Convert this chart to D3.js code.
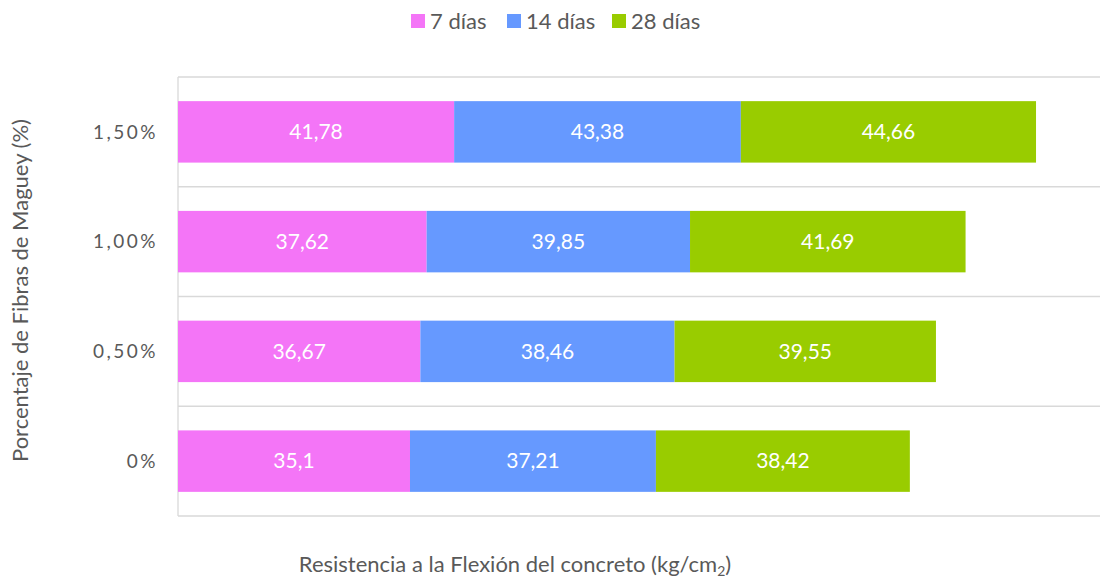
<!DOCTYPE html>
<html>
<head>
<meta charset="utf-8">
<script src="https://d3js.org/d3.v7.min.js"></script>
<style>
  body { margin: 0; background: #fff; }
  text { font-family: Lato, "Open Sans", sans-serif; fill: #595959; }
</style>
</head>
<body>
<script>
// Data
var categories = ["0%", "0,50%", "1,00%", "1,50%"];
var seriesNames = ["7 días", "14 días", "28 días"];
var dias7 = [35.1, 36.67, 37.62, 41.78];
var dias14 = [37.21, 38.46, 39.85, 43.38];
var dias28 = [38.42, 39.55, 41.69, 44.66];
var colors = ["#F475F7", "#6699FF", "#99CC00"];

var W = 1100, H = 581;
var margin = {top: 77, right: 0, bottom: 65, left: 178},
    width = W - margin.left - margin.right,
    height = H - margin.top - margin.bottom;

var rows = categories.map(function(c, i) {
  return {cat: c, "7 días": dias7[i], "14 días": dias14[i], "28 días": dias28[i]};
});
var stacked = d3.stack().keys(seriesNames)(rows);

var x = d3.scaleLinear().domain([0, 139.5]).range([0, width]);
var y = d3.scaleBand()
    .domain(categories.slice().reverse())
    .range([0, height])
    .paddingInner(0.44)
    .paddingOuter(0.22);

var svg = d3.select("body").append("svg")
    .attr("width", W)
    .attr("height", H);

var g = svg.append("g")
    .attr("transform", "translate(" + margin.left + "," + margin.top + ")");

// Horizontal gridlines between categories
var lines = d3.range(categories.length + 1).map(function(i) { return i * height / categories.length; });
g.selectAll(".grid")
    .data(lines)
  .enter().append("line")
    .attr("x1", 0).attr("x2", width)
    .attr("y1", function(d) { return d; })
    .attr("y2", function(d) { return d; })
    .attr("stroke", "#d9d9d9")
    .attr("stroke-width", 1.3);

// Left axis line
g.append("line")
    .attr("x1", 0).attr("x2", 0)
    .attr("y1", 0).attr("y2", height)
    .attr("stroke", "#d9d9d9")
    .attr("stroke-width", 1.3);

// Bars
var layer = g.selectAll(".layer")
    .data(stacked)
  .enter().append("g")
    .attr("fill", function(d, i) { return colors[i]; });

layer.selectAll("rect")
    .data(function(d) { return d; })
  .enter().append("rect")
    .attr("x", function(d) { return x(d[0]); })
    .attr("width", function(d) { return x(d[1]) - x(d[0]); })
    .attr("y", function(d) { return y(d.data.cat); })
    .attr("height", y.bandwidth());

// Bar labels
layer.selectAll("text")
    .data(function(d) { return d.map(function(p) { return {p: p, key: d.key}; }); })
  .enter().append("text")
    .attr("x", function(d) { return (x(d.p[0]) + x(d.p[1])) / 2; })
    .attr("y", function(d) { return y(d.p.data.cat) + y.bandwidth() / 2; })
    .attr("dy", "0.35em")
    .attr("text-anchor", "middle")
    .style("fill", "#fff")
    .style("font-size", "21px")
    .text(function(d) { return String(d.p.data[d.key]).replace(".", ","); });

// Category labels
g.selectAll(".cat")
    .data(categories)
  .enter().append("text")
    .attr("x", -20)
    .attr("y", function(d) { return y(d) + y.bandwidth() / 2; })
    .attr("dy", "0.35em")
    .attr("text-anchor", "end")
    .style("font-size", "19px")
    .style("letter-spacing", "2.5px")
    .text(function(d) { return d; });

// Axis titles
svg.append("text")
    .attr("transform", "translate(28," + (margin.top + height / 2 - 6) + ") rotate(-90)")
    .attr("text-anchor", "middle")
    .style("font-size", "22px")
    .text("Porcentaje de Fibras de Maguey (%)");

var xt = svg.append("text")
    .attr("x", 515)
    .attr("y", 572)
    .attr("text-anchor", "middle")
    .style("font-size", "22px");
xt.append("tspan").text("Resistencia a la Flexión del concreto (kg/cm");
xt.append("tspan").attr("dy", 4).style("font-size", "14px").text("2");
xt.append("tspan").attr("dy", -4).text(")");

// Legend
var legX = [411, 507, 612];
var leg = svg.selectAll(".leg")
    .data(seriesNames)
  .enter().append("g")
    .attr("transform", function(d, i) { return "translate(" + legX[i] + ",14)"; });
leg.append("rect")
    .attr("width", 14).attr("height", 14)
    .attr("fill", function(d, i) { return colors[i]; });
leg.append("text")
    .attr("x", 19)
    .attr("y", 7)
    .attr("dy", "0.35em")
    .style("font-size", "22px")
    .text(function(d) { return d; });
</script>
</body>
</html>
